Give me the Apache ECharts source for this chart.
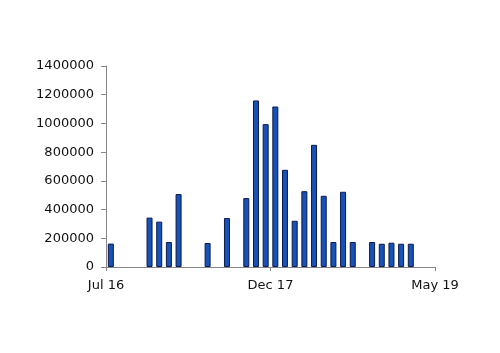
<!DOCTYPE html>
<html>
<head>
<meta charset="utf-8">
<script src="https://cdn.jsdelivr.net/npm/echarts@6/dist/echarts.min.js"></script>
<style>
  html, body { margin: 0; padding: 0; background: #fff; }
  #chart { width: 500px; height: 353px; }
</style>
</head>
<body>
<div id="chart"></div>
<script>
// months with a bar, and the value read for each
const months = [
  '2016-07', '2016-11', '2016-12', '2017-01', '2017-02', '2017-05', '2017-07',
  '2017-09', '2017-10', '2017-11', '2017-12', '2018-01', '2018-02', '2018-03',
  '2018-04', '2018-05', '2018-06', '2018-07', '2018-08', '2018-10', '2018-11',
  '2018-12', '2019-01', '2019-02'
]
const values = [
  163000, 344000, 316000, 174000, 508000, 167000, 341000,
  480000, 1160000, 995000, 1118000, 677000, 322000, 528000,
  851000, 496000, 174000, 524000, 174000, 174000, 162000,
  169000, 162000, 162000
]
const tickLabels = ['Jul 16', 'Dec 17', 'May 19']
const startYear = 2016
const startMonth = 7

// month offset from Jul 16, bar sits in the middle of its month
function monthPos (m) {
  const [y, mo] = m.split('-').map(Number)
  return (y - startYear) * 12 + (mo - startMonth) + 0.5
}

const seriesData = months.map((m, i) => [monthPos(m), values[i]])

const chart = echarts.init(document.getElementById('chart'))
chart.setOption({
  animation: false,
  textStyle: { fontFamily: 'DejaVu Sans' },
  grid: { left: 106, right: 65, top: 66, bottom: 86 },
  xAxis: {
    type: 'value',
    min: 0,
    max: 34,
    interval: 17,
    axisLine: { lineStyle: { color: '#888', width: 1 } },
    axisTick: { show: true, length: 4, lineStyle: { color: '#888' } },
    splitLine: { show: false },
    axisLabel: {
      color: '#111',
      fontSize: 13,
      margin: 12,
      formatter: (v) => tickLabels[Math.round(v / 17)]
    }
  },
  yAxis: {
    type: 'value',
    min: 0,
    max: 1400000,
    interval: 200000,
    axisLine: { show: true, lineStyle: { color: '#888', width: 1 } },
    axisTick: { show: true, length: 5, lineStyle: { color: '#888' } },
    splitLine: { show: false },
    axisLabel: { color: '#111', fontSize: 13, margin: 12, formatter: (v) => String(v) }
  },
  series: [{
    type: 'bar',
    data: seriesData,
    barWidth: 6,
    itemStyle: {
      color: '#1852b4',
      borderColor: '#0a1a4e',
      borderWidth: 1
    }
  }]
})
</script>
</body>
</html>
